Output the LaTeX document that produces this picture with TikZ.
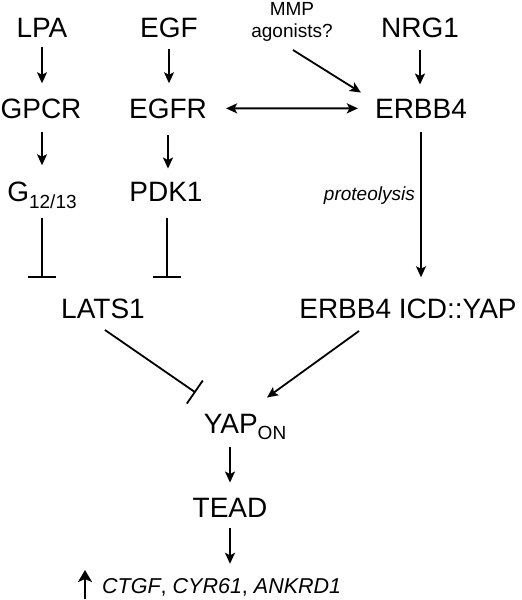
\documentclass[tikz,border=0pt]{standalone}
\usepackage{fontspec}
\setmainfont{Liberation Sans}
\usetikzlibrary{arrows.meta,calc}
\begin{document}
\begin{tikzpicture}[x=1pt,y=-1pt,
  lab/.style={inner sep=0pt, anchor=base, font=\fontsize{28}{32}\selectfont},
  small/.style={inner sep=0pt, anchor=base, font=\fontsize{19}{22}\selectfont},
  tipA/.tip={Stealth[length=11pt,width=10pt,inset=2.5pt]},
  act/.style={line width=1.8pt, -tipA},
  dbl/.style={line width=1.8pt, tipA-tipA},
  up/.style={line width=2.4pt, -{Stealth[length=12pt,width=14pt,inset=3pt]}},
  inh/.style={line width=1.8pt, -{Bar[width=28pt]}}]
\useasboundingbox (0,0) rectangle (522,600);
% nodes
\node[lab] (LPA) at (42,37) {LPA};
\node[lab] (EGF) at (169,37) {EGF};
\node[small] (mmp) at (292,15) {MMP};
\node[small] (agon) at (292,37) {agonists?};
\node[lab] (NRG1) at (420,37) {NRG1};
\node[lab] (GPCR) at (41,118) {GPCR};
\node[lab] (EGFR) at (168,118) {EGFR};
\node[lab] (ERBB4) at (421,118) {ERBB4};
\node[lab] (G) at (42,201) {G\raisebox{-7pt}{\fontsize{19}{19}\selectfont 12/13}};
\node[lab] (PDK1) at (166,201) {PDK1};
\node[small, anchor=base east, font=\fontsize{19}{22}\selectfont\itshape] (prot) at (415,200) {proteolysis};
\node[lab] (LATS1) at (103,318) {LATS1};
\node[lab] (ICD) at (408,318) {ERBB4 ICD::YAP};
\node[lab] (YAP) at (245,433) {YAP\raisebox{-6pt}{\fontsize{19}{19}\selectfont ON}};
\node[lab] (TEAD) at (230,517) {TEAD};
\node[anchor=base west, inner sep=0pt, font=\fontsize{21.5}{24}\selectfont] (genes) at (102,593) {{\itshape CTGF}, {\itshape CYR61}, {\itshape ANKRD1}};
% connectors
\draw[act] ($(LPA.base)+(0,10)$) -- ($(LPA.base |- GPCR.north)+(0,-15)$);
\draw[act] ($(EGF.base)+(0,12)$) -- ($(EGF.base |- EGFR.north)+(0,-15)$);
\draw[act] ($(NRG1.base)+(0,13)$) -- ($(NRG1.base |- ERBB4.north)+(0,-14)$);
\draw[act] ($(agon.base)+(1,13)$) -- ($(ERBB4.north west)+(-14,-6)$);
\draw[dbl] ($(EGFR.east)+(19,0)$) -- ($(ERBB4.west)+(-17,0)$);
\draw[act] ($(G.base |- GPCR.base)+(0,14)$) -- ($(G.north)+(0,-16)$);
\draw[act] ($(EGFR.base)+(0,17)$) -- ($(EGFR.base |- PDK1.north)+(0,-13)$);
\draw[inh] ($(G.base)+(0,17)$) -- ($(G.base |- LATS1.north)+(0,-20)$);
\draw[inh] ($(PDK1.base)+(1,17)$) -- ($(PDK1.base |- LATS1.north)+(1,-20)$);
\draw[act] ($(ERBB4.base)+(0,14)$) -- ($(ERBB4.base |- ICD.north)+(0,-21)$);
\draw[inh] ($(LATS1.base)+(2,12)$) -- ($(YAP.north west)+(-8,-21)$);
\draw[act] ($(ICD.base)+(-49,13)$) -- ($(YAP.north)+(22,-16)$);
\draw[act] ($(YAP.base -| TEAD.base)+(0,14)$) -- ($(TEAD.north)+(0,-15)$);
\draw[act] ($(TEAD.base)+(0,11)$) -- ($(TEAD.base |- genes.north)+(0,-14)$);
\draw[up] ($(genes.base west)+(-17,6)$) -- ($(genes.base west)+(-17,-23)$);
\end{tikzpicture}
\end{document}
